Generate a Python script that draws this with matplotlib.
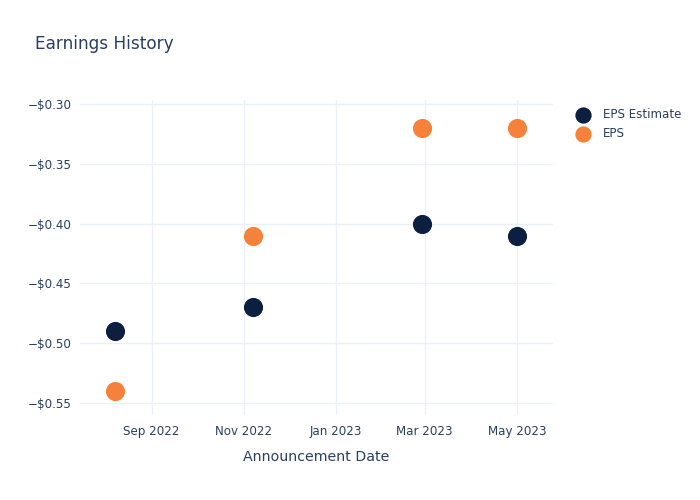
import matplotlib
matplotlib.use("Agg")
import matplotlib.pyplot as plt
import matplotlib.dates as mdates
from matplotlib.ticker import FuncFormatter
import datetime as dt

dates = ["2022-08-08", "2022-11-07", "2023-02-27", "2023-05-01"]
eps_estimate = [-0.49, -0.47, -0.40, -0.41]
eps_actual = [-0.54, -0.41, -0.32, -0.32]
y_ticks = [-0.55, -0.50, -0.45, -0.40, -0.35, -0.30]
x_ticks = ["2022-09-01", "2022-11-01", "2023-01-01", "2023-03-01", "2023-05-01"]

plt.rcParams['font.family'] = ['DejaVu Sans']
text_color = "#2a3f5f"
grid_color = "#ebf0f8"

d = [dt.datetime.fromisoformat(s) for s in dates]
xt = [dt.datetime.fromisoformat(s) for s in x_ticks]

fig = plt.figure(figsize=(7, 5), dpi=100)
ax = fig.add_axes([80/700, 1-415/500, (553-80)/700, (415-100)/500])

ax.scatter(d, eps_estimate, s=190, color="#0c1f40", label="EPS Estimate", zorder=3, linewidths=0)
ax.scatter(d, eps_actual, s=190, color="#f6813a", label="EPS", zorder=3, linewidths=0)

ax.set_xlim(dt.datetime(2022, 7, 15, 14), dt.datetime(2023, 5, 24, 22))
ax.set_ylim(-0.560, -0.2967)
ax.set_yticks(y_ticks)
ax.yaxis.set_major_formatter(FuncFormatter(lambda v, p: ("\u2212" if v < 0 else "") + "$%.2f" % abs(v)))
ax.set_xticks(xt)
ax.xaxis.set_major_formatter(mdates.DateFormatter("%b %Y"))

ax.grid(True, color=grid_color, linewidth=1)
ax.set_axisbelow(True)
for s in ax.spines.values():
    s.set_visible(False)
ax.tick_params(axis="both", length=0, colors=text_color, labelsize=8.6)
ax.tick_params(axis="y", pad=6)
ax.tick_params(axis="x", pad=7)

ax.set_xlabel("Announcement Date", color=text_color, fontsize=10.2, labelpad=9)
fig.text(35/700, 1-44/500, "Earnings History", color=text_color, fontsize=12.2, va="center", ha="left")

leg = ax.legend(loc="upper left", bbox_to_anchor=(1.02, 1.0), frameon=False,
                fontsize=8.6, labelcolor=text_color, handletextpad=0.7, borderaxespad=0.3,
                labelspacing=0.5, markerscale=0.85)

fig.savefig("out.png", dpi=100, facecolor="white")
